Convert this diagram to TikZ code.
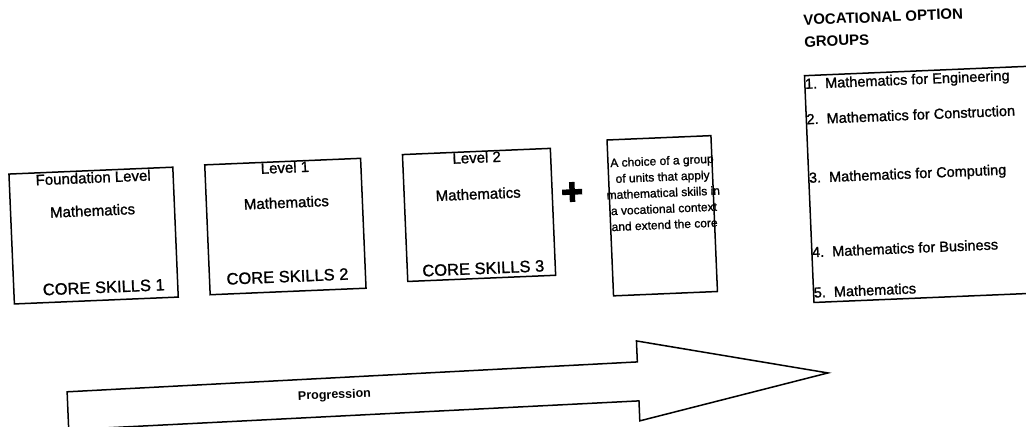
\documentclass[tikz,border=0pt]{standalone}
\usepackage{fontspec}
\setmainfont{Liberation Sans}
\newfontfamily\scanfont{Liberation Sans}[FakeBold=1.2]
\begin{document}
\begin{tikzpicture}[x=1pt,y=-1pt,
  box/.style={draw,line width=1.5pt,inner sep=0pt},
  boxtext/.style={font=\scanfont\fontsize{15}{16}\selectfont,inner sep=0pt},
  coretext/.style={font=\scanfont\fontsize{16.5}{18}\selectfont,inner sep=0pt},
  unittext/.style={font=\scanfont\fontsize{12}{16}\selectfont,align=center,inner sep=0pt},
  itemtext/.style={font=\scanfont\fontsize{14.5}{16}\selectfont,anchor=west,inner sep=0pt},
  headtext/.style={font=\bfseries\fontsize{15}{22}\selectfont,align=left,anchor=north west,inner sep=0pt}]
\useasboundingbox (0,0) rectangle (1026,427);
\clip (0,0) rectangle (1026,427);
\begin{scope}[rotate around={2.4:(513,213)},transform shape]
% core boxes
\node[box,minimum width=164pt,minimum height=130pt] (b1) at (93,218) {};
\node[box,minimum width=156pt,minimum height=130pt] (b2) at (285,217) {};
\node[box,minimum width=148pt,minimum height=127pt] (b3) at (479,213.5) {};
\node[box,minimum width=104pt,minimum height=156pt] (b4) at (662,222) {};
\node[box,minimum width=235pt,minimum height=227pt] (b5) at (927.5,201.5) {};
% texts box 1
\node[boxtext] (t1a) at (95,160) {Foundation Level};
\node[boxtext] (t1b) at (93,193) {Mathematics};
\node[coretext] (t1c) at (101,270) {CORE SKILLS 1};
% texts box 2
\node[boxtext] (t2a) at (287,158) {Level 1};
\node[boxtext] (t2b) at (287,193) {Mathematics};
\node[coretext] (t2c) at (285,267) {CORE SKILLS 2};
% texts box 3
\node[boxtext] (t3a) at (479,156) {Level 2};
\node[boxtext] (t3b) at (479,192.5) {Mathematics};
\node[coretext] (t3c) at (481,267) {CORE SKILLS 3};
% plus
\node[inner sep=0pt,minimum size=0pt] (plus) at (573,194.5) {};
\draw[line width=5.5pt] ([xshift=-10pt]plus.center) -- ([xshift=10pt]plus.center);
\draw[line width=5.5pt] ([yshift=-10pt]plus.center) -- ([yshift=10pt]plus.center);
% box 4 text
\node[unittext] (t4) at (664,199) {A choice of a group\\of units that apply\\mathematical skills in\\a vocational context\\and extend the core};
% header
\node[headtext] (head) at (811,27) {VOCATIONAL OPTION\\GROUPS};
% items
\node[itemtext] (i1) at (810,97.5) {1.\ \ Mathematics for Engineering};
\node[itemtext] (i2) at (810,131.5) {2.\ \ Mathematics for Construction};
\node[itemtext] (i3) at (810,191.5) {3.\ \ Mathematics for Computing};
\node[itemtext] (i4) at (810,264.5) {4.\ \ Mathematics for Business};
\node[itemtext] (i5) at (810,305) {5.\ \ Mathematics};
% progression arrow
\draw[line width=1.5pt,line join=miter] (60,373) -- (631,367) -- (631,346) -- (821,386) -- (631,426) -- (631,406) -- (60,411) -- cycle;
\node[font=\bfseries\fontsize{12.5}{14}\selectfont,inner sep=0pt] (prog) at (327,388) {Progression};
\end{scope}
\end{tikzpicture}
\end{document}
